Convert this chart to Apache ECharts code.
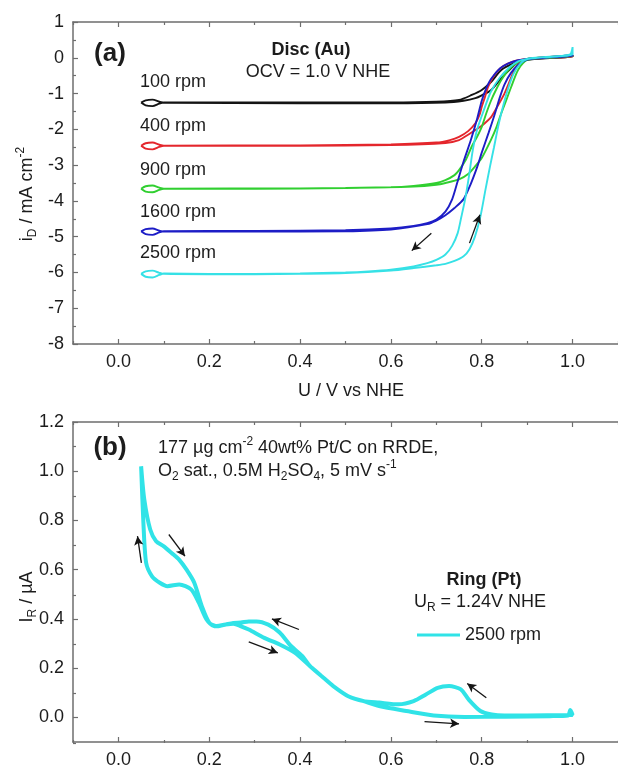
<!DOCTYPE html>
<html><head><meta charset="utf-8">
<script src="https://cdn.jsdelivr.net/npm/echarts@6/dist/echarts.min.js"></script>
<style>html,body{margin:0;padding:0;background:#fff}#c{width:618px;height:769px}</style>
</head><body><div id="c"></div>
<script>
// ---------- data ----------
const xMajor = [0, 0.2, 0.4, 0.6, 0.8, 1.0];
const xMinor = [-0.1, 0.1, 0.3, 0.5, 0.7, 0.9, 1.1];
const yDiscMajor = [-8, -7, -6, -5, -4, -3, -2, -1, 0, 1];
const yDiscMinor = [-7.5, -6.5, -5.5, -4.5, -3.5, -2.5, -1.5, -0.5, 0.5];
const yRingMajor = [0, 0.2, 0.4, 0.6, 0.8, 1.0, 1.2];
const yRingMinor = [-0.1, 0.1, 0.3, 0.5, 0.7, 0.9, 1.1];
const rpmLabels = ['100 rpm', '400 rpm', '900 rpm', '1600 rpm', '2500 rpm'];

// disc current loops [U (V), iD (mA cm-2)]
const disc100 = [[0.05,-1.25],[0.06,-1.33],[0.075,-1.35],[0.09,-1.28],[0.1,-1.25],[0.4,-1.25],[0.6,-1.25],[0.7,-1.23],[0.75,-1.18],[0.778,-1.04],[0.8,-0.9],[0.821,-0.67],[0.843,-0.34],[0.871,-0.15],[0.893,-0.06],[0.95,0.0],[1.0,0.05],
  [1.0,0.03],[0.95,-0.01],[0.9,-0.06],[0.88,-0.12],[0.865,-0.29],[0.843,-0.57],[0.821,-0.9],[0.8,-1.05],[0.786,-1.13],[0.76,-1.2],[0.72,-1.25],[0.6,-1.27],[0.4,-1.27],[0.1,-1.26],[0.09,-1.23],[0.075,-1.17],[0.06,-1.19],[0.05,-1.25]];
const disc400 = [[0.05,-2.46],[0.06,-2.54],[0.075,-2.56],[0.09,-2.49],[0.1,-2.46],[0.4,-2.45],[0.6,-2.42],[0.7,-2.37],[0.73,-2.3],[0.75,-2.21],[0.77,-2.05],[0.786,-1.83],[0.795,-1.6],[0.8,-1.37],[0.807,-1.1],[0.814,-0.81],[0.828,-0.48],[0.845,-0.25],[0.87,-0.1],[0.9,-0.03],[0.95,0.02],[1.0,0.06],
  [1.0,0.03],[0.95,0.0],[0.9,-0.04],[0.886,-0.11],[0.872,-0.34],[0.86,-0.7],[0.85,-1.0],[0.835,-1.35],[0.821,-1.65],[0.8,-1.9],[0.786,-2.02],[0.77,-2.15],[0.75,-2.3],[0.72,-2.38],[0.6,-2.44],[0.4,-2.46],[0.1,-2.46],[0.09,-2.43],[0.075,-2.37],[0.06,-2.39],[0.05,-2.46]];
const disc900 = [[0.05,-3.66],[0.06,-3.74],[0.075,-3.76],[0.09,-3.69],[0.1,-3.66],[0.4,-3.65],[0.6,-3.62],[0.65,-3.58],[0.7,-3.5],[0.72,-3.42],[0.74,-3.28],[0.75,-3.14],[0.765,-2.85],[0.778,-2.48],[0.79,-2.2],[0.8,-1.93],[0.81,-1.55],[0.821,-1.18],[0.832,-0.88],[0.843,-0.62],[0.86,-0.32],[0.88,-0.12],[0.9,-0.03],[0.95,0.02],[1.0,0.07],
  [1.0,0.04],[0.95,0.0],[0.9,-0.06],[0.88,-0.34],[0.865,-0.81],[0.855,-1.15],[0.843,-1.55],[0.832,-1.95],[0.82,-2.3],[0.8,-2.8],[0.785,-3.04],[0.77,-3.25],[0.75,-3.4],[0.72,-3.5],[0.7,-3.55],[0.65,-3.6],[0.5,-3.64],[0.3,-3.66],[0.1,-3.66],[0.09,-3.63],[0.075,-3.57],[0.06,-3.59],[0.05,-3.66]];
const disc1600 = [[0.05,-4.85],[0.06,-4.93],[0.075,-4.95],[0.09,-4.88],[0.1,-4.85],[0.3,-4.84],[0.5,-4.82],[0.6,-4.77],[0.65,-4.7],[0.68,-4.62],[0.7,-4.52],[0.72,-4.3],[0.735,-3.95],[0.747,-3.45],[0.76,-2.9],[0.776,-2.3],[0.79,-1.7],[0.8,-1.2],[0.81,-0.85],[0.82,-0.6],[0.84,-0.3],[0.86,-0.15],[0.88,-0.07],[0.9,-0.03],[0.95,0.02],[1.0,0.08],
  [1.0,0.05],[0.95,0.01],[0.9,-0.05],[0.88,-0.2],[0.864,-0.43],[0.85,-0.75],[0.84,-1.1],[0.828,-1.6],[0.815,-2.1],[0.8,-2.65],[0.79,-3.05],[0.775,-3.55],[0.76,-3.95],[0.74,-4.2],[0.72,-4.4],[0.7,-4.55],[0.68,-4.65],[0.6,-4.8],[0.5,-4.85],[0.3,-4.86],[0.1,-4.86],[0.09,-4.83],[0.075,-4.77],[0.06,-4.79],[0.05,-4.85]];
const disc2500 = [[0.05,-6.04],[0.06,-6.12],[0.075,-6.14],[0.09,-6.07],[0.1,-6.03],[0.2,-6.04],[0.3,-6.04],[0.4,-6.03],[0.5,-6.0],[0.55,-5.97],[0.6,-5.92],[0.65,-5.83],[0.68,-5.74],[0.7,-5.65],[0.72,-5.5],[0.735,-5.25],[0.747,-4.9],[0.755,-4.45],[0.763,-3.98],[0.772,-3.3],[0.78,-2.6],[0.79,-2.0],[0.805,-1.45],[0.82,-0.95],[0.84,-0.55],[0.86,-0.28],[0.88,-0.1],[0.9,-0.03],[0.92,0.0],[0.95,0.03],[0.98,0.06],[0.995,0.1],[1.0,0.3],
  [1.0,0.1],[0.97,0.04],[0.93,0.01],[0.9,-0.04],[0.886,-0.15],[0.87,-0.45],[0.857,-0.9],[0.846,-1.4],[0.836,-1.93],[0.827,-2.5],[0.818,-3.05],[0.808,-3.7],[0.797,-4.44],[0.785,-5.0],[0.773,-5.35],[0.76,-5.55],[0.74,-5.68],[0.72,-5.76],[0.7,-5.8],[0.65,-5.88],[0.6,-5.95],[0.5,-6.02],[0.4,-6.04],[0.3,-6.05],[0.2,-6.05],[0.1,-6.04],[0.09,-6.01],[0.075,-5.95],[0.06,-5.97],[0.05,-6.04]];

// ring current loop, 2500 rpm [U (V), IR (uA)]
const ring2500 = [[0.05,1.02],[0.057,0.885],[0.07,0.763],[0.083,0.716],[0.1,0.695],[0.117,0.668],[0.134,0.64],[0.15,0.6],[0.167,0.547],[0.184,0.45],[0.2,0.385],[0.218,0.37],[0.236,0.377],[0.253,0.384],[0.27,0.385],[0.287,0.39],[0.304,0.39],[0.33,0.377],[0.355,0.345],[0.38,0.29],[0.405,0.249],[0.422,0.208],[0.447,0.168],[0.473,0.127],[0.506,0.086],[0.54,0.066],[0.574,0.046],[0.634,0.026],[0.694,0.008],[0.762,0.002],[0.85,0.003],[0.95,0.005],[0.99,0.008],[0.995,0.03],[1.0,0.01],
  [0.99,0.01],[0.9,0.008],[0.85,0.008],[0.822,0.012],[0.797,0.026],[0.771,0.073],[0.754,0.114],[0.728,0.127],[0.703,0.12],[0.677,0.093],[0.65,0.066],[0.617,0.053],[0.574,0.06],[0.54,0.066],[0.506,0.086],[0.473,0.127],[0.447,0.168],[0.422,0.208],[0.389,0.262],[0.355,0.296],[0.321,0.323],[0.287,0.357],[0.27,0.37],[0.253,0.38],[0.236,0.377],[0.211,0.37],[0.194,0.398],[0.177,0.466],[0.16,0.52],[0.134,0.54],[0.108,0.533],[0.091,0.547],[0.074,0.573],[0.061,0.628],[0.055,0.79],[0.05,1.02]];

// sweep-direction arrows [[start],[end]] in data units
const discArrows = [[[0.689,-4.905],[0.646,-5.39]], [[0.773,-5.18],[0.796,-4.39]]];
const ringArrows = [[[0.0505,0.628],[0.042,0.736]], [[0.111,0.743],[0.1465,0.655]], [[0.3975,0.357],[0.338,0.40]], [[0.287,0.307],[0.351,0.262]], [[0.81,0.08],[0.768,0.138]], [[0.674,-0.0175],[0.75,-0.026]]];

// ---------- chart ----------
const FONT = '"Liberation Sans", Arial, sans-serif';
const TXT = '#1c1c1c';
const AX = '#6e6e6e';
const chart = echarts.init(document.getElementById('c'), null, {renderer: 'canvas'});

const G0 = {left: 73, top: 22, right: -11, height: 322};
const G1 = {left: 73, top: 422, right: -11, height: 321};

function xAx(grid, pos, vals, len, labels, line) {
  return {
    type: 'value', gridIndex: grid, position: pos, min: -0.1, max: 1.1,
    axisLine: {show: line, onZero: false, lineStyle: {color: AX, width: 1.5}},
    axisTick: {show: true, inside: true, length: len, customValues: vals, lineStyle: {color: AX, width: 1.2}},
    axisLabel: labels ? {show: true, customValues: xMajor, formatter: v => v.toFixed(1), fontSize: 18, fontFamily: FONT, color: TXT, margin: 9} : {show: false},
    splitLine: {show: false}
  };
}
function yAx(grid, min, max, vals, len, labels, line, fmt) {
  return {
    type: 'value', gridIndex: grid, position: 'left', min: min, max: max,
    axisLine: {show: line, onZero: false, lineStyle: {color: AX, width: 1.5}},
    axisTick: {show: true, inside: true, length: len, customValues: vals, lineStyle: {color: AX, width: 1.2}},
    axisLabel: labels ? {show: true, customValues: vals, formatter: fmt, fontSize: 18, fontFamily: FONT, color: TXT, margin: 9} : {show: false},
    splitLine: {show: false}
  };
}

const arrowLine = (arr) => ({
  silent: true, symbol: ['none', 'arrow'], symbolSize: [7, 9], animation: false,
  label: {show: false}, lineStyle: {color: '#151515', width: 1.3, type: 'solid'},
  data: arr.map(a => [{coord: a[0]}, {coord: a[1]}])
});

const discColors = ['#141414', '#e4262c', '#30cf30', '#1d1dc6', '#36e1e6'];
const discData = [disc100, disc400, disc900, disc1600, disc2500];

const series = discData.map((d, k) => ({
  type: 'line', name: rpmLabels[k], xAxisIndex: 0, yAxisIndex: 0, data: d,
  showSymbol: false, smooth: 0.25, lineStyle: {color: discColors[k], width: 1.9},
  itemStyle: {color: discColors[k]}, animation: false, silent: true
}));
series[4].markLine = arrowLine(discArrows);
series.push({
  type: 'line', name: '2500 rpm ', xAxisIndex: 4, yAxisIndex: 2, data: ring2500,
  showSymbol: false, smooth: 0.25, lineStyle: {color: '#30e3e7', width: 4},
  itemStyle: {color: '#30e3e7'}, animation: false, silent: true,
  markLine: arrowLine(ringArrows)
});

const n = {fontSize: 18, fontFamily: FONT, fill: TXT, color: TXT, lineHeight: 24, verticalAlign: 'middle'};
const sub = {fontSize: 12, fontFamily: FONT, fill: TXT, color: TXT, lineHeight: 12, verticalAlign: 'bottom'};
const sup = {fontSize: 12, fontFamily: FONT, fill: TXT, color: TXT, lineHeight: 12, verticalAlign: 'top'};
const rich = {n, sub, sup};
function txt(x, y, text, opt) {
  opt = opt || {};
  return {
    type: 'text', x: x, y: y, rotation: opt.rot || 0, silent: true,
    style: {text: text, fill: TXT, align: opt.align || 'left', verticalAlign: 'middle',
      font: (opt.bold ? 'bold ' : '') + (opt.size || 18) + 'px ' + FONT, rich: rich}
  };
}

const graphics = [
  txt(110, 54, '(a)', {bold: true, size: 26, align: 'center'}),
  txt(311, 50, 'Disc (Au)', {bold: true, align: 'center'}),
  txt(318, 72, 'OCV = 1.0 V NHE', {align: 'center'}),
  txt(140, 82, rpmLabels[0]), txt(140, 126, rpmLabels[1]), txt(140, 170, rpmLabels[2]),
  txt(140, 212, rpmLabels[3]), txt(140, 253, rpmLabels[4]),
  txt(351, 391, 'U / V vs NHE', {align: 'center'}),
  txt(27, 194, '{n|i}{sub|D}{n| / mA cm}{sup|-2}', {align: 'center', rot: Math.PI / 2}),
  txt(110, 448, '(b)', {bold: true, size: 26, align: 'center'}),
  txt(158, 448, '{n|177 µg cm}{sup|-2}{n| 40wt% Pt/C on RRDE,}'),
  txt(158, 471, '{n|O}{sub|2}{n| sat., 0.5M H}{sub|2}{n|SO}{sub|4}{n|, 5 mV s}{sup|-1}'),
  txt(484, 580, 'Ring (Pt)', {bold: true, align: 'center'}),
  txt(480, 602, '{n|U}{sub|R}{n| = 1.24V NHE}', {align: 'center'}),
  txt(27, 597, '{n|I}{sub|R}{n| / µA}', {align: 'center', rot: Math.PI / 2})
];

chart.setOption({
  animation: false,
  backgroundColor: '#fff',
  grid: [
    Object.assign({}, G0), Object.assign({}, G0),
    Object.assign({}, G1), Object.assign({}, G1)
  ],
  xAxis: [
    xAx(0, 'bottom', xMajor, 5, true, true),
    xAx(0, 'top', xMajor, 5, false, true),
    xAx(1, 'bottom', xMinor, 3, false, false),
    xAx(1, 'top', xMinor, 3, false, false),
    xAx(2, 'bottom', xMajor, 5, true, true),
    xAx(2, 'top', xMajor, 5, false, true),
    xAx(3, 'bottom', xMinor, 3, false, false),
    xAx(3, 'top', xMinor, 3, false, false)
  ],
  yAxis: [
    Object.assign(yAx(0, -8, 1, yDiscMajor, 5, true, true, v => String(v)), {interval: 1}),
    yAx(1, -8, 1, yDiscMinor, 3, false, false),
    yAx(2, -0.1, 1.2, yRingMajor, 5, true, true, v => v.toFixed(1)),
    yAx(3, -0.1, 1.2, yRingMinor, 3, false, false)
  ],
  legend: {
    data: [{name: '2500 rpm ', icon: 'rect'}],
    left: 412, top: 621, itemWidth: 43, itemHeight: 3, itemGap: 4,
    textStyle: {fontSize: 18, fontFamily: FONT, color: TXT, padding: [0, 0, 0, 0]},
    selectedMode: false
  },
  series: series,
  graphic: graphics
});
</script></body></html>
